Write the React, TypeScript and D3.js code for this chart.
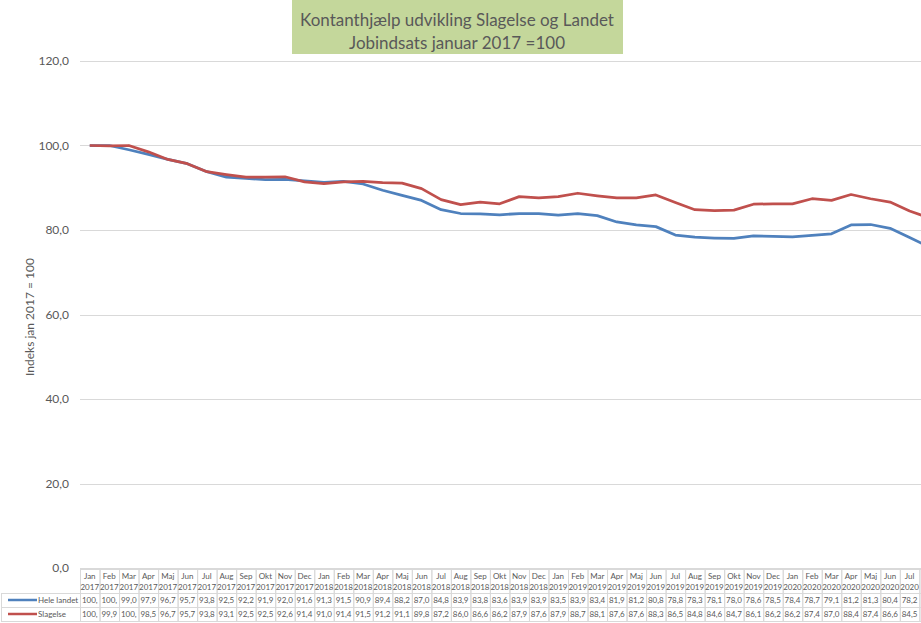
import React, { useRef, useEffect } from 'react';
import * as d3 from 'd3';

const WIDTH = 921;
const HEIGHT = 623;

const monthNames = ['Jan', 'Feb', 'Mar', 'Apr', 'Maj', 'Jun', 'Jul', 'Aug', 'Sep', 'Okt', 'Nov', 'Dec'];
const years = ['2017', '2018', '2019', '2020'];
// last column (Aug 2020) is cut off by the right edge in the original
const periods = years.flatMap(y => monthNames.map(m => ({ month: m, year: y }))).slice(0, 44);

const heleLandet = [
  100, 100, 99.0, 97.9, 96.7, 95.7, 93.8, 92.5, 92.2, 91.9, 92.0, 91.6,
  91.3, 91.5, 90.9, 89.4, 88.2, 87.0, 84.8, 83.9, 83.8, 83.6, 83.9, 83.9,
  83.5, 83.9, 83.4, 81.9, 81.2, 80.8, 78.8, 78.3, 78.1, 78.0, 78.6, 78.5,
  78.4, 78.7, 79.1, 81.2, 81.3, 80.4, 78.2, 76.0
];
const slagelse = [
  100, 99.9, 100, 98.5, 96.7, 95.7, 93.8, 93.1, 92.5, 92.5, 92.6, 91.4,
  91.0, 91.4, 91.5, 91.2, 91.1, 89.8, 87.2, 86.0, 86.6, 86.2, 87.9, 87.6,
  87.9, 88.7, 88.1, 87.6, 87.6, 88.3, 86.5, 84.8, 84.6, 84.7, 86.1, 86.2,
  86.2, 87.4, 87.0, 88.4, 87.4, 86.6, 84.5, 82.9
];

const series = [
  { name: 'Hele landet', values: heleLandet, color: '#4f81bd' },
  { name: 'Slagelse', values: slagelse, color: '#c0504d' }
];

const yTicks = [0, 20, 40, 60, 80, 100, 120];
const titleLines = ['Kontanthjælp udvikling Slagelse og Landet', 'Jobindsats januar 2017 =100'];
const yTitle = 'Indeks jan 2017 = 100';

const FONT = 'Lato, "Open Sans", sans-serif';
const TEXT = '#595959';
const GRID = '#d9d9d9';

function Chart() {
  const ref = useRef<SVGSVGElement>(null);

  const PLOT_LEFT = 80;
  const COL_W = 19.52;
  const PLOT_TOP = 61;
  const PLOT_BOTTOM = 568;

  useEffect(() => {
    document.body.style.margin = '0';
    const svg = d3.select(ref.current);
    svg.selectAll('*').remove();

    const x = d3
      .scaleBand()
      .domain(periods.map((_, i) => String(i)))
      .range([PLOT_LEFT, PLOT_LEFT + COL_W * periods.length]);
    const y = d3.scaleLinear().domain([0, 120]).range([PLOT_BOTTOM, PLOT_TOP]);
    const cx = (i: number) => (x(String(i)) as number) + x.bandwidth() / 2;
    // columns whose centre lies past the right edge get no text (hidden in original)
    const visible = (i: number) => cx(i) + 8 < WIDTH;

    // gridlines
    svg
      .append('g')
      .selectAll('line')
      .data(yTicks)
      .join('line')
      .attr('x1', PLOT_LEFT)
      .attr('x2', WIDTH)
      .attr('y1', d => Math.round(y(d)) + 0.5)
      .attr('y2', d => Math.round(y(d)) + 0.5)
      .attr('stroke', GRID)
      .attr('stroke-width', 1);

    // y tick labels
    const fmt = (v: number) => d3.format('.1f')(v).replace('.', ',');
    svg
      .append('g')
      .selectAll('text')
      .data(yTicks)
      .join('text')
      .attr('x', 69)
      .attr('y', d => y(d))
      .attr('dy', '0.35em')
      .attr('text-anchor', 'end')
      .attr('font-family', FONT)
      .attr('font-size', 12)
      .attr('fill', TEXT)
      .text(d => fmt(d));

    // y axis title
    svg
      .append('text')
      .attr('transform', `translate(34, 317) rotate(-90)`)
      .attr('text-anchor', 'middle')
      .attr('font-family', FONT)
      .attr('font-size', 12)
      .attr('fill', TEXT)
      .text(yTitle);

    // lines
    const line = d3
      .line<number>()
      .x((_, i) => cx(i))
      .y(d => y(d));
    svg
      .append('g')
      .selectAll('path')
      .data(series)
      .join('path')
      .attr('d', d => line(d.values))
      .attr('fill', 'none')
      .attr('stroke', d => d.color)
      .attr('stroke-width', 2.75)
      .attr('stroke-linejoin', 'round');

    // data table
    const HEAD_TOP = 569;
    const ROW_TOP = 593;
    const ROW_H = 14;
    const table = svg.append('g');
    const cols = table
      .selectAll('g.col')
      .data(periods)
      .join('g')
      .attr('class', 'col');
    cols
      .append('rect')
      .attr('x', (_, i) => (x(String(i)) as number) + 0.5)
      .attr('y', HEAD_TOP + 0.5)
      .attr('width', x.bandwidth())
      .attr('height', ROW_TOP + ROW_H * 2 - HEAD_TOP)
      .attr('fill', 'none')
      .attr('stroke', GRID);
    const shown = cols.filter((_, i) => visible(i));
    shown
      .append('text')
      .attr('x', (_, i) => cx(i))
      .attr('y', HEAD_TOP + 10)
      .attr('text-anchor', 'middle')
      .attr('font-family', FONT)
      .attr('font-size', 8)
      .attr('fill', TEXT)
      .text(d => d.month);
    shown
      .append('text')
      .attr('x', (_, i) => cx(i))
      .attr('y', HEAD_TOP + 21)
      .attr('text-anchor', 'middle')
      .attr('font-family', FONT)
      .attr('font-size', 8)
      .attr('fill', TEXT)
      .text(d => d.year);

    series.forEach((s, r) => {
      const top = ROW_TOP + r * ROW_H;
      table
        .append('line')
        .attr('x1', 1)
        .attr('x2', WIDTH)
        .attr('y1', top + 0.5)
        .attr('y2', top + 0.5)
        .attr('stroke', GRID);
      table
        .append('line')
        .attr('x1', 8)
        .attr('x2', 37)
        .attr('y1', top + ROW_H / 2)
        .attr('y2', top + ROW_H / 2)
        .attr('stroke', s.color)
        .attr('stroke-width', 2.5);
      table
        .append('text')
        .attr('x', 38)
        .attr('y', top + ROW_H / 2)
        .attr('dy', '0.35em')
        .attr('font-family', FONT)
        .attr('font-size', 8)
        .attr('fill', TEXT)
        .text(s.name);
      table
        .append('g')
        .selectAll('text')
        .data(s.values.filter((_, i) => visible(i)))
        .join('text')
        .attr('x', (_, i) => cx(i))
        .attr('y', top + ROW_H / 2)
        .attr('dy', '0.35em')
        .attr('text-anchor', 'middle')
        .attr('font-family', FONT)
        .attr('font-size', 8)
        .attr('fill', TEXT)
        .text(v => fmt(v).slice(0, 4));
    });
    table
      .append('line')
      .attr('x1', 1)
      .attr('x2', WIDTH)
      .attr('y1', ROW_TOP + ROW_H * 2 + 0.5)
      .attr('y2', ROW_TOP + ROW_H * 2 + 0.5)
      .attr('stroke', GRID);
    table
      .append('line')
      .attr('x1', 1.5)
      .attr('x2', 1.5)
      .attr('y1', ROW_TOP)
      .attr('y2', ROW_TOP + ROW_H * 2)
      .attr('stroke', GRID);

    // title box
    svg
      .append('rect')
      .attr('x', 292)
      .attr('y', 0)
      .attr('width', 331)
      .attr('height', 54)
      .attr('fill', '#c4d79b');
    svg
      .append('g')
      .selectAll('text')
      .data(titleLines)
      .join('text')
      .attr('x', 457)
      .attr('y', (_, i) => 20 + i * 23)
      .attr('dy', '0.35em')
      .attr('text-anchor', 'middle')
      .attr('font-family', FONT)
      .attr('font-size', 17)
      .attr('fill', TEXT)
      .text(d => d);
  }, []);

  return <svg ref={ref} width={WIDTH} height={HEIGHT} style={{ display: 'block', overflow: 'hidden' }} />;
}

export default function App() {
  return <Chart />;
}
